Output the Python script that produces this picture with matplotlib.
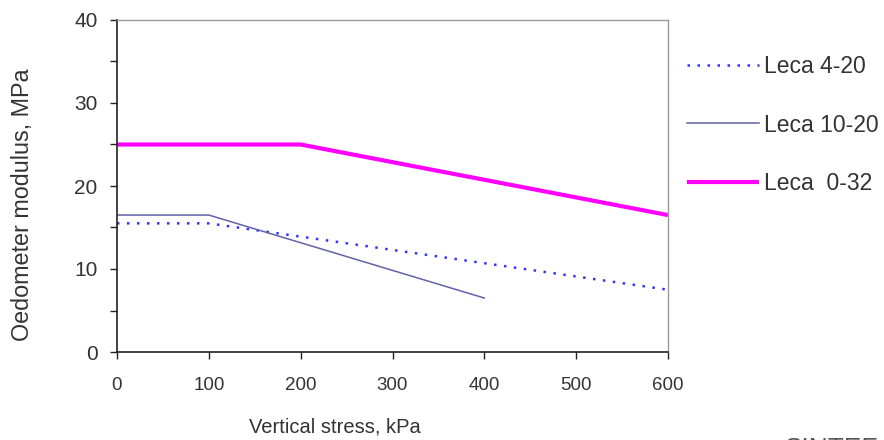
import matplotlib.pyplot as plt
from matplotlib.ticker import MultipleLocator

plt.rcParams["font.family"] = ["Liberation Sans", "DejaVu Sans"]

# --- data ---------------------------------------------------------------
stress_4_20 = [0, 100, 600]
mod_4_20 = [15.5, 15.5, 7.5]

stress_10_20 = [0, 100, 400]
mod_10_20 = [16.5, 16.5, 6.5]

stress_0_32 = [0, 200, 600]
mod_0_32 = [25.0, 25.0, 16.5]

labels = ["Leca 4-20", "Leca 10-20", "Leca  0-32"]

# --- style --------------------------------------------------------------
INK = "#333333"
EDGE = "#999999"

fig = plt.figure(figsize=(8.84, 4.40), dpi=100)
ax = fig.add_axes([117 / 884, 88 / 440, (668 - 117) / 884, (352 - 20) / 440])

ax.plot(stress_4_20, mod_4_20, color="#3333FF", lw=1.8,
        linestyle=(0, (1, 3)), label=labels[0])
ax.plot(stress_10_20, mod_10_20, color="#6262A8", lw=1.1, label=labels[1])
ax.plot(stress_0_32, mod_0_32, color="#FF00FF", lw=3.0, label=labels[2],
        solid_capstyle="butt")

ax.set_xlim(0, 600)
ax.set_ylim(0, 40)
ax.xaxis.set_major_locator(MultipleLocator(100))
ax.yaxis.set_major_locator(MultipleLocator(10))
ax.yaxis.set_minor_locator(MultipleLocator(5))

for side in ("left", "bottom"):
    ax.spines[side].set_color("#222222")
    ax.spines[side].set_linewidth(1.2)
for side in ("top", "right"):
    ax.spines[side].set_color(EDGE)
    ax.spines[side].set_linewidth(1.0)

ax.tick_params(axis="both", which="both", direction="out", color="#222222",
               labelcolor=INK, length=5, width=1)
ax.tick_params(axis="x", labelsize=13.5, pad=13)
ax.tick_params(axis="y", labelsize=15, pad=9)

# axis titles placed where the reference puts them
fig.text(335 / 884, 1 - 427 / 440, "Vertical stress, kPa", fontsize=14.5,
         color=INK, ha="center", va="center")
fig.text(23 / 884, 1 - 205 / 440, "Oedometer modulus, MPa", fontsize=16.8,
         color=INK, ha="center", va="center", rotation=90)

ax.legend(loc="upper left", bbox_to_anchor=(687 / 884, 1 - 55 / 440),
          bbox_transform=fig.transFigure, frameon=False, fontsize=16.5,
          borderpad=0, borderaxespad=0, handlelength=3.15,
          handletextpad=0.22, labelspacing=1.55, labelcolor=INK)

fig.text(785 / 884, -16 / 440, "SINTEF", fontsize=19, color="#555555",
         ha="left", va="baseline")

fig.savefig("out.png", dpi=100)
